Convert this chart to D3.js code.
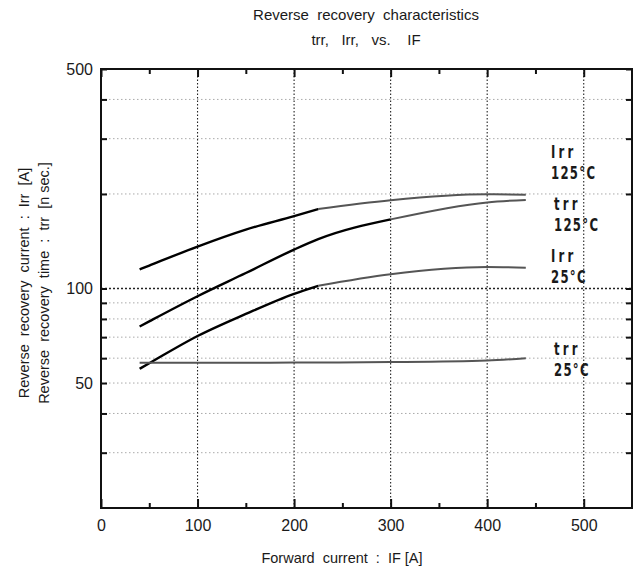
<!DOCTYPE html>
<html>
<head>
<meta charset="utf-8">
<script src="https://cdn.jsdelivr.net/npm/d3@7"></script>
<style>
  body { margin: 0; background: #fff; }
  text { font-family: "Liberation Sans", Arial, sans-serif; fill: #1a1a1a; white-space: pre; }
</style>
</head>
<body>
<svg id="chart"></svg>
<script>
// forward current IF [A]
const forwardCurrent = [40, 50, 100, 150, 200, 225, 300, 400, 440];
const irr125 = [115, 118.3, 136, 154, 170, 179, 191, 199.5, 199];
const trr125 = [75.7, 78.6, 94.5, 112, 133, 143.6, 166, 188, 191.5];
const irr25 = [55.5, 57.8, 70.6, 83, 96.2, 102, 111, 117, 116.5];
const trr25 = [58, 58, 58, 58, 58.1, 58.1, 58.3, 59, 60];

const xMajor = [0, 100, 200, 300, 400, 500];
const xMinor = [50, 150, 250, 350, 450];
const yTicks = [30, 40, 50, 60, 70, 80, 90, 100, 200, 300, 400, 500];
const yLabels = [50, 100, 500];

const series = [
  { name: "Irr", temp: "125°C", values: irr125, split: 225 },
  { name: "trr", temp: "125°C", values: trr125, split: 300 },
  { name: "Irr", temp: "25°C", values: irr25, split: 225 },
  { name: "trr", temp: "25°C", values: trr25, split: 0 }
];

const W = 639, H = 572;
const margin = { top: 69, right: 7, bottom: 64, left: 101 };
const width = W - margin.left - margin.right;
const height = H - margin.top - margin.bottom;

const svg = d3.select("#chart").attr("width", W).attr("height", H);
const g = svg.append("g").attr("transform", `translate(${margin.left},${margin.top})`);

const x = d3.scaleLinear().domain([0, 550]).range([0, width]);
const y = d3.scaleLog().domain([20, 500]).range([height, 0]);

// grid
g.selectAll(".hgrid").data(yTicks.filter(v => v < 500)).enter().append("line")
  .attr("x1", 0).attr("x2", width)
  .attr("y1", d => y(d)).attr("y2", d => y(d))
  .attr("stroke", d => d === 100 ? "#222" : "#aaa")
  .attr("stroke-width", d => d === 100 ? 1.3 : 1)
  .attr("stroke-dasharray", d => d === 100 ? "2,2" : "1.5,2.5");

g.selectAll(".vgrid").data(xMajor.filter(v => v > 0)).enter().append("line")
  .attr("y1", 0).attr("y2", height)
  .attr("x1", d => x(d)).attr("x2", d => x(d))
  .attr("stroke", "#222").attr("stroke-width", 1.1)
  .attr("stroke-dasharray", "1.5,2");

// axes: bottom labels + major ticks
const fmt = d3.format("d");
g.append("g").attr("transform", `translate(0,${height})`)
  .call(d3.axisBottom(x).tickValues(xMajor).tickSize(-9).tickPadding(12).tickFormat(fmt))
  .call(a => a.select(".domain").remove());
g.append("g").attr("transform", `translate(0,${height})`)
  .call(d3.axisBottom(x).tickValues(xMinor).tickSize(-5).tickFormat(""))
  .call(a => a.select(".domain").remove());
// top ticks
g.append("g")
  .call(d3.axisTop(x).tickValues(xMajor).tickSize(-8).tickFormat(""))
  .call(a => a.select(".domain").remove());
g.append("g")
  .call(d3.axisTop(x).tickValues(xMinor).tickSize(-5).tickFormat(""))
  .call(a => a.select(".domain").remove());
// left ticks and labels
g.append("g")
  .call(d3.axisLeft(y).tickValues(yTicks).tickSize(-6).tickPadding(8)
    .tickFormat(d => yLabels.includes(d) ? fmt(d) : ""))
  .call(a => a.select(".domain").remove());
// right ticks
g.append("g").attr("transform", `translate(${width},0)`)
  .call(d3.axisRight(y).tickValues(yTicks).tickSize(-6).tickFormat(""))
  .call(a => a.select(".domain").remove());

g.selectAll(".tick line").attr("stroke", "#111").attr("stroke-width", 2);
g.selectAll(".tick text").style("font-size", "16px").attr("fill", "#1a1a1a")
  .style("font-family", "'Liberation Sans', Arial, sans-serif");

// frame
g.append("rect").attr("width", width).attr("height", height)
  .attr("fill", "none").attr("stroke", "#111").attr("stroke-width", 2);

// curves
const line = d3.line().x(d => x(d[0])).y(d => y(d[1])).curve(d3.curveMonotoneX);
series.forEach(s => {
  const pts = forwardCurrent.map((f, i) => [f, s.values[i]]);
  const thick = pts.filter(p => p[0] <= s.split);
  const thin = pts.filter(p => p[0] >= s.split);
  g.append("path").datum(thin).attr("d", line)
    .attr("fill", "none").attr("stroke", "#555").attr("stroke-width", 2);
  if (thick.length > 1) {
    g.append("path").datum(thick).attr("d", line)
      .attr("fill", "none").attr("stroke", "#000").attr("stroke-width", 2.4);
  }
});

// series labels (condensed bold, letter-spaced)
const labelPos = [
  [551, 158], [554, 210], [551, 262], [554, 355]
];
series.forEach((s, i) => {
  const [lx, ly] = labelPos[i];
  const t = svg.append("text")
    .attr("transform", `translate(${lx},${ly}) scale(0.65,1)`)
    .style("font-family", "'DejaVu Sans', sans-serif")
    .style("font-weight", "bold").style("font-size", "18px")
    .attr("fill", "#000");
  t.append("tspan").attr("x", 0).style("letter-spacing", "5px").text(s.name);
  t.append("tspan").attr("x", 0).attr("dy", 21).style("letter-spacing", "2px").text(s.temp);
});

// titles
svg.append("text").attr("x", 366).attr("y", 20).attr("text-anchor", "middle")
  .style("font-size", "15px").text("Reverse  recovery  characteristics");
svg.append("text").attr("x", 366).attr("y", 45).attr("text-anchor", "middle")
  .style("font-size", "15px").text("trr,   Irr,   vs.    IF");

svg.append("text").attr("x", 342).attr("y", 563).attr("text-anchor", "middle")
  .style("font-size", "14.5px").text("Forward  current  :  IF [A]");

svg.append("text").attr("transform", "translate(29,283) rotate(-90)").attr("text-anchor", "middle")
  .style("font-size", "14.5px").text("Reverse  recovery  current  :  Irr  [A]");
svg.append("text").attr("transform", "translate(49,283) rotate(-90)").attr("text-anchor", "middle")
  .style("font-size", "14.5px").text("Reverse  recovery  time  :  trr  [n sec.]");
</script>
</body>
</html>
